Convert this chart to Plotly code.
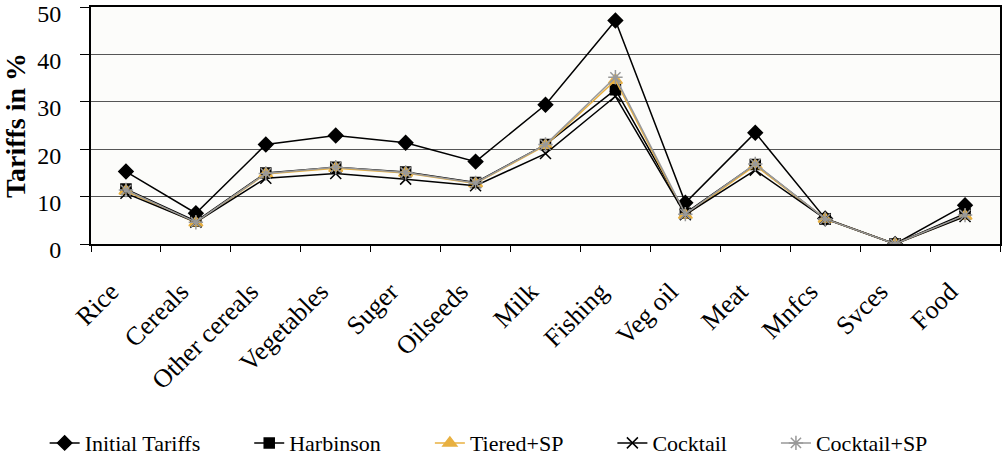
import plotly.graph_objects as go

categories = ["Rice", "Cereals", "Other cereals", "Vegetables", "Suger", "Oilseeds",
              "Milk", "Fishing", "Veg oil", "Meat", "Mnfcs", "Svces", "Food"]
initial_tariffs = [15.3, 6.5, 21.0, 22.9, 21.4, 17.4, 29.4, 47.2, 8.7, 23.5, 5.4, 0.0, 8.2]
harbinson =       [11.6, 4.8, 15.0, 16.2, 15.2, 13.0, 21.0, 32.6, 6.5, 16.8, 5.3, 0.0, 6.4]
tiered_sp =       [11.2, 4.5, 14.8, 16.0, 15.0, 12.8, 20.8, 34.6, 6.1, 16.6, 5.3, 0.0, 5.9]
cocktail =        [10.7, 4.6, 13.9, 14.9, 13.7, 12.3, 19.1, 31.2, 6.2, 15.6, 5.3, 0.0, 5.8]
cocktail_sp =     [11.4, 4.6, 14.9, 16.2, 15.1, 12.9, 21.0, 35.2, 6.3, 16.9, 5.3, 0.0, 6.1]

series = [
    ("Initial Tariffs", initial_tariffs, "#000000", "diamond", 11),
    ("Harbinson", harbinson, "#000000", "square", 10),
    ("Tiered+SP", tiered_sp, "#E8B040", "triangle-up", 12),
    ("Cocktail", cocktail, "#000000", "x-thin-open", 11),
    ("Cocktail+SP", cocktail_sp, "#999999", "asterisk-open", 12),
]

SERIF = "Liberation Serif"
PAD = "\u00a0" * 8

fig = go.Figure()
for name, vals, color, sym, size in series:
    fig.add_trace(go.Scatter(
        x=categories, y=vals, name=name + PAD, mode="lines+markers",
        line=dict(color=color, width=1.5),
        marker=dict(symbol=sym, size=size, color=color,
                    line=dict(color=color, width=1.5)),
    ))

fig.update_layout(
    width=1002, height=467,
    margin=dict(l=91, r=2, t=7, b=219),
    paper_bgcolor="white",
    plot_bgcolor="#FCFCFA",
    font=dict(family=SERIF, color="black", size=20),
    legend=dict(orientation="h", x=-0.051, xanchor="left", y=-0.84, yanchor="middle",
                font=dict(size=22, family=SERIF),
                tracegroupgap=0, bgcolor="rgba(0,0,0,0)"),
    showlegend=True,
)
fig.update_xaxes(
    type="category", tickson="boundaries", ticks="outside", ticklen=6,
    tickcolor="black", showline=True, linecolor="black", linewidth=2, mirror=True,
    tickangle=-45, tickfont=dict(size=26, family=SERIF),
    ticklabelstandoff=20, ticklabelshift=-15, automargin=False,
    showgrid=False, range=[-0.5, 12.5],
)
fig.update_yaxes(
    range=[0, 50.05], tickvals=[0, 10, 20, 30, 40, 50], ticks="outside", ticklen=9, tickcolor="black",
    showline=True, linecolor="black", linewidth=2, mirror=True,
    gridcolor="#555555", gridwidth=1, zeroline=False,
    tickfont=dict(size=24, family=SERIF), ticklabeloverflow="allow",
    ticklabelstandoff=14, ticklabelshift=6, automargin=False,
    title=dict(text="<b>Tariffs in %</b>", font=dict(size=28, family=SERIF),
               standoff=22),
)

fig.write_html("out.html", config={"displayModeBar": False},
               post_script="document.body.style.margin='0';")
